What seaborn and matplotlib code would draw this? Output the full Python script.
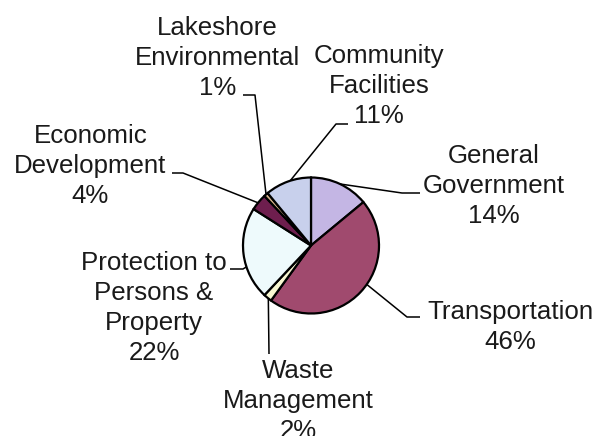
import numpy as np
import matplotlib
matplotlib.use("Agg")
import matplotlib.pyplot as plt
import seaborn as sns

# Budget share by department (clockwise from 12 o'clock)
departments = ['General\nGovernment', 'Transportation', 'Waste\nManagement',
               'Protection to\nPersons &\nProperty', 'Economic\nDevelopment',
               'Lakeshore\nEnvironmental', 'Community\nFacilities']
shares = [14, 46, 2, 22, 4, 1, 11]
colors = ['#c4b6e4', '#a04a6e', '#f8f8d2', '#eefafc', '#6e1e4e', '#d8b48a', '#c8d0ec']

sns.set_style("white")
plt.rcParams['font.family'] = ['Liberation Sans', 'DejaVu Sans']

W, H = 595, 436


def px(x, y):
    # pixel coords (y down) -> data coords (y up)
    return x, H - y


fig = plt.figure(figsize=(W / 100, H / 100), dpi=100)
ax = fig.add_axes([0, 0, 1, 1])

cx, cy = px(311, 245.5)
R = 68
wedges, _ = ax.pie(shares, colors=colors, startangle=90, counterclock=False,
                   center=(cx, cy), radius=R,
                   wedgeprops=dict(edgecolor='black', linewidth=1.6))
ax.set_xlim(0, W)
ax.set_ylim(0, H)
ax.set_aspect('equal')
ax.axis('off')

# label placement: (x centre, last-line baseline) in pixels, anchor fraction along wedge,
# elbow points of the leader line in pixels
layout = [
    ((493.5, 223), 0.5, [(402, 193), (420, 193)]),
    ((510, 349), 0.55, [(407, 317), (420, 317)]),
    ((298.5, 438), 0.6, [(269, 354)]),
    ((154, 360), 0.64, [(243, 269), (230, 269)]),
    ((90.5, 203), 0.55, [(183, 173), (172, 173)]),
    ((217.5, 95), 0.5, [(255, 95), (243, 95)]),
    ((379, 123), 0.45, [(336, 124), (348, 124)]),
]

for w, name, share, (pos, frac, elbows) in zip(wedges, departments, shares, layout):
    ang = np.deg2rad(w.theta1 + frac * (w.theta2 - w.theta1))
    ax_, ay_ = cx + R * np.cos(ang), cy + R * np.sin(ang)
    pts = [(ax_, ay_)] + [px(*e) for e in elbows]
    ax.plot([p[0] for p in pts], [p[1] for p in pts], color='black', lw=1.1,
            solid_capstyle='butt', zorder=0)
    tx, ty = px(*pos)
    ax.text(tx, ty, f"{name}\n{share}%", ha='center', va='baseline',
            multialignment='center', fontsize=18.6, linespacing=1.32,
            color='#1a1a1a')

plt.savefig('out.png', dpi=100)
plt.close()
